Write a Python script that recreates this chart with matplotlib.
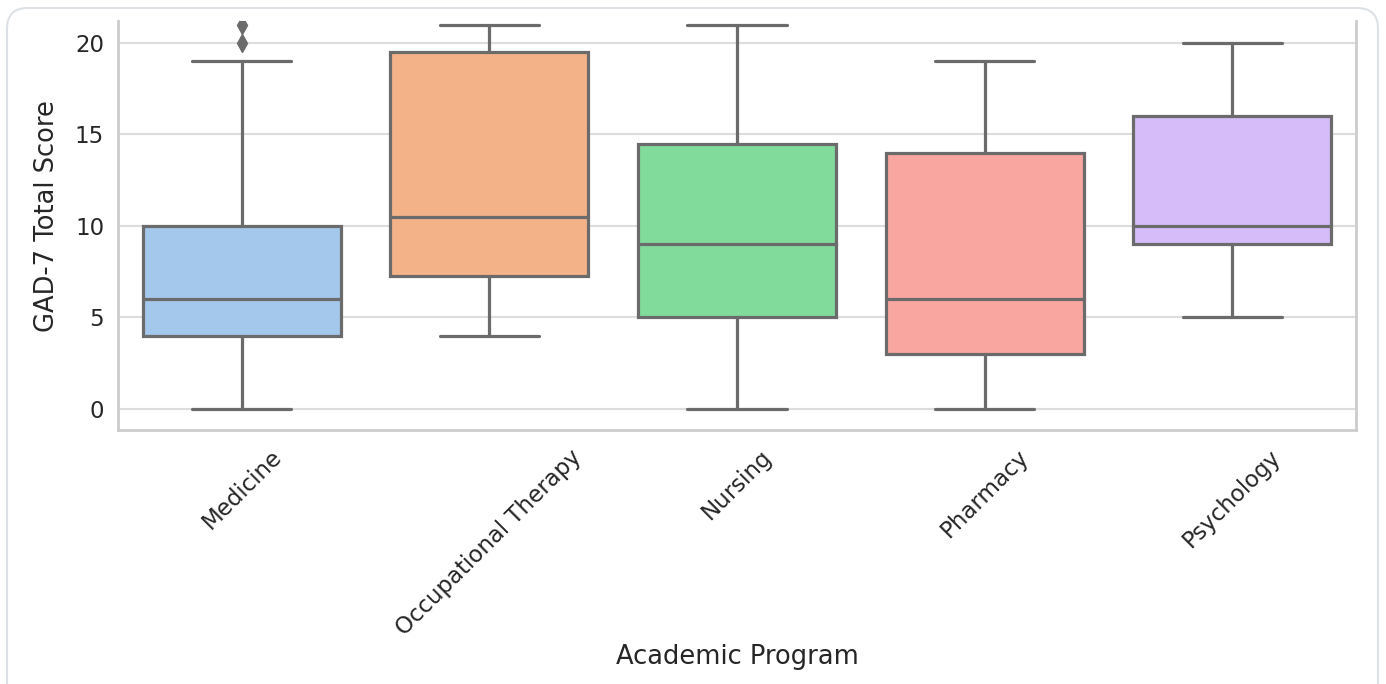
import matplotlib.pyplot as plt
import seaborn as sns
from matplotlib.patches import FancyBboxPatch

# GAD-7 score summaries per academic program
programs = ['Medicine', 'Occupational Therapy', 'Nursing', 'Pharmacy', 'Psychology']
whisker_low = [0, 4, 0, 0, 5]
q1 = [4, 7.25, 5, 3, 9]
median = [6, 10.5, 9, 6, 10]
q3 = [10, 19.5, 14.5, 14, 16]
whisker_high = [19, 21, 21, 19, 20]
outliers = [[20, 21], [], [], [], []]

sns.set_theme(style='whitegrid')
plt.rcParams['font.family'] = ['DejaVu Sans']

W, H = 1386, 684
fig = plt.figure(figsize=(W / 100, H / 100), dpi=100)

# card frame around the output
card = FancyBboxPatch((7 / W, -0.2), 1371 / W, 1.2 - 8 / H,
                      boxstyle='round,pad=0,rounding_size=0.015',
                      mutation_aspect=W / H, transform=fig.transFigure,
                      facecolor='none', edgecolor='#dde1e6', linewidth=1.5,
                      zorder=-1)
fig.patches.append(card)

ax = fig.add_axes([118 / W, (H - 430) / H, (1356 - 118) / W, (430 - 21) / H])

stats = []
for i, name in enumerate(programs):
    stats.append(dict(label=name, whislo=whisker_low[i], q1=q1[i], med=median[i],
                      q3=q3[i], whishi=whisker_high[i], fliers=outliers[i]))

colors = ['#a4c7ec', '#f3b288', '#81db9b', '#f9a6a1', '#d6bdfa']
gray = '#6b6b6b'
lw = 2.3

bp = ax.bxp(stats, positions=range(len(programs)), widths=0.8, patch_artist=True,
            capwidths=0.4,
            boxprops=dict(edgecolor=gray, linewidth=lw),
            medianprops=dict(color=gray, linewidth=lw),
            whiskerprops=dict(color=gray, linewidth=lw),
            capprops=dict(color=gray, linewidth=lw),
            flierprops=dict(marker='d', markerfacecolor=gray, markeredgecolor=gray,
                            markersize=9))
for box, c in zip(bp['boxes'], colors):
    box.set_facecolor(c)

ax.set_xlim(-0.5, 4.5)
ax.set_ylim(-1.15, 21.2)
ax.set_yticks([0, 5, 10, 15, 20])
ax.set_xticks(range(len(programs)))
ax.set_xticklabels(programs, rotation=45)
ax.tick_params(axis='both', labelsize=16.5, colors='#262626', length=0)
ax.tick_params(axis='y', pad=10)
ax.tick_params(axis='x', pad=11)
ax.grid(axis='x', visible=False)
ax.grid(axis='y', color='#dddddd', linewidth=1.5)
ax.spines['top'].set_visible(False)
for s in ['left', 'right', 'bottom']:
    ax.spines[s].set_color('#cccccc')
    ax.spines[s].set_linewidth(2)

ax.set_ylabel('GAD-7 Total Score', fontsize=18.5, color='#262626')
ax.yaxis.set_label_coords(-0.047, 0.523)
ax.set_xlabel('Academic Program', fontsize=18.5, color='#262626', labelpad=3)

fig.savefig('out.png', dpi=100)
